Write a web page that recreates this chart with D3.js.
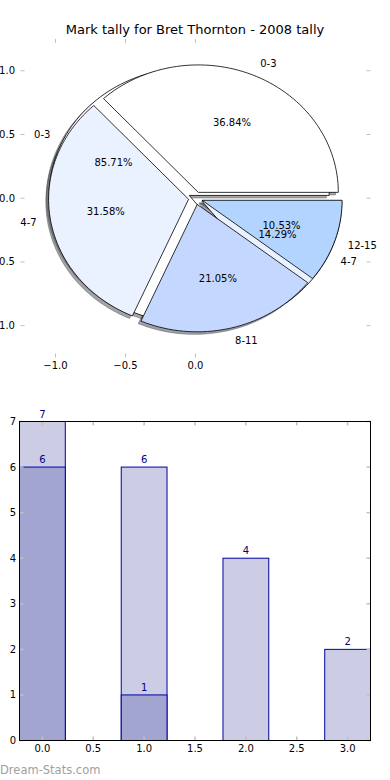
<!DOCTYPE html>
<html><head><meta charset="utf-8">
<script src="https://cdn.jsdelivr.net/npm/d3@7"></script>
<style>body{margin:0;background:#fff}svg{display:block}text{font-family:"DejaVu Sans",sans-serif}</style>
</head><body>
<script>
// ---- data ----
const title = "Mark tally for Bret Thornton - 2008 tally";
const pieLabels1 = ["0-3","4-7","8-11","12-15"];
const pieValues1 = [7,6,4,2];
const pieLabels2 = ["0-3","4-7"];
const pieValues2 = [6,1];
const pieColors = ["#ffffff","#ebf2ff","#c4d7ff","#b3d4ff"];
const pieXTicks = [-1.0,-0.5,0.0];
const pieYTicks = [1.0,0.5,0.0,-0.5,-1.0];
const barX = [0,1,2,3];
const barTotal = [7,6,4,2];
const barSub = [6,1];
const barXTicks = [0,0.5,1,1.5,2,2.5,3];
const barYTicks = [0,1,2,3,4,5,6,7];
const watermark = "Dream-Stats.com";

const W=390,H=780;
const svg=d3.select("body").append("svg").attr("width",W).attr("height",H);

svg.append("text").attr("x",195).attr("y",34).attr("text-anchor","middle")
  .attr("font-size",13).text(title);

// ---- pie axes ----
const px=d3.scaleLinear().domain([-1.25,1.25]).range([20.5,370.5]);
const py=d3.scaleLinear().domain([-1.25,1.25]).range([357.5,38.9]);
const tickGray="#c0c0c0";
const gp=svg.append("g");
pieXTicks.forEach(t=>{
  gp.append("line").attr("x1",px(t)).attr("x2",px(t)).attr("y1",38.9).attr("y2",42.9).attr("stroke",tickGray).attr("stroke-width",1);
  gp.append("line").attr("x1",px(t)).attr("x2",px(t)).attr("y1",357.5).attr("y2",353.5).attr("stroke",tickGray).attr("stroke-width",1);
  gp.append("text").attr("x",px(t)).attr("y",369).attr("text-anchor","middle").attr("font-size",10)
    .text(d3.format(".1f")(t).replace("-","\u2212"));
});
pieYTicks.forEach(t=>{
  gp.append("line").attr("x1",20.5).attr("x2",24.5).attr("y1",py(t)).attr("y2",py(t)).attr("stroke",tickGray);
  gp.append("line").attr("x1",370.5).attr("x2",366.5).attr("y1",py(t)).attr("y2",py(t)).attr("stroke",tickGray);
  gp.append("text").attr("x",15).attr("y",py(t)).attr("dy","0.35em").attr("text-anchor","end").attr("font-size",10)
    .text(d3.format(".1f")(t).replace("-","\u2212"));
});

const explode=0.05, rad=1, lineGen=d3.line().x(d=>px(d[0])).y(d=>py(d[1]));
function wedges(values,labels){
  const sum=d3.sum(values); let acc=0;
  return values.map((v,i)=>{
    const t1=acc/sum*360; acc+=v; const t2=acc/sum*360;
    const tm=(t1+t2)/2*Math.PI/180;
    const cx=explode*Math.cos(tm), cy=explode*Math.sin(tm);
    const pts=[[cx,cy]];
    const n=Math.max(4,Math.ceil((t2-t1)/2));
    for(let k=0;k<=n;k++){const a=(t1+(t2-t1)*k/n)*Math.PI/180;pts.push([cx+rad*Math.cos(a),cy+rad*Math.sin(a)]);}
    return {pts,cx,cy,tm,color:pieColors[i],label:labels[i],pct:v/sum*100};
  });
}
const w1=wedges(pieValues1,pieLabels1), w2=wedges(pieValues2,pieLabels2);
const all=[...w2,...w1];
all.forEach(w=>{
  const c=d3.rgb(w.color);
  gp.append("path").attr("d",lineGen(w.pts.map(p=>[p[0]-0.02,p[1]-0.02]))+"Z")
    .attr("fill",d3.rgb(c.r*0.3,c.g*0.3,c.b*0.3)).attr("fill-opacity",0.5)
    .attr("stroke",d3.rgb(c.r*0.3,c.g*0.3,c.b*0.3)).attr("stroke-opacity",0.5).attr("stroke-width",0.8);
});
all.forEach(w=>{
  gp.append("path").attr("d",lineGen(w.pts)+"Z").attr("fill",w.color)
    .attr("stroke","#000").attr("stroke-width",0.8).attr("stroke-linejoin","round");
});
all.forEach(w=>{
  const lx=w.cx+1.1*Math.cos(w.tm), ly=w.cy+1.1*Math.sin(w.tm);
  gp.append("text").attr("x",px(lx)).attr("y",py(ly)).attr("dy","0.35em")
    .attr("text-anchor",lx>0?"start":"end").attr("font-size",10).text(w.label);
  const qx=w.cx+0.6*Math.cos(w.tm), qy=w.cy+0.6*Math.sin(w.tm);
  gp.append("text").attr("x",px(qx)).attr("y",py(qy)).attr("dy","0.35em")
    .attr("text-anchor","middle").attr("font-size",10).text(w.pct.toFixed(2)+"%");
});

// ---- bar axes ----
const L=19.5,R=370.5,T=421.5,B=740.5;
const bx=d3.scaleLinear().domain([-0.225,3.225]).range([L,R]);
const by=d3.scaleLinear().domain([0,7]).range([B,T]);
const bw=0.45;
const gb=svg.append("g");
const lightC="#cccce5", darkC="#a3a5d1", edgeC="#0000a0", lblC="#000080";
barX.forEach((x,i)=>{
  gb.append("rect").attr("x",bx(x-bw/2)).attr("y",by(barTotal[i])).attr("width",bx(x+bw/2)-bx(x-bw/2))
    .attr("height",by(0)-by(barTotal[i])).attr("fill",lightC).attr("stroke",edgeC).attr("stroke-width",1);
});
barSub.forEach((v,i)=>{
  const x=barX[i];
  gb.append("rect").attr("x",bx(x-bw/2)).attr("y",by(v)).attr("width",bx(x+bw/2)-bx(x-bw/2))
    .attr("height",by(0)-by(v)).attr("fill",darkC).attr("stroke",edgeC).attr("stroke-width",1);
});
barX.forEach((x,i)=>{
  gb.append("text").attr("x",bx(x)).attr("y",by(barTotal[i])-4).attr("text-anchor","middle")
    .attr("font-size",10).attr("fill",lblC).text(barTotal[i]);
});
barSub.forEach((v,i)=>{
  gb.append("text").attr("x",bx(barX[i])).attr("y",by(v)-4).attr("text-anchor","middle")
    .attr("font-size",10).attr("fill",lblC).text(v);
});
barXTicks.forEach(t=>{
  gb.append("line").attr("x1",bx(t)).attr("x2",bx(t)).attr("y1",B).attr("y2",B-4).attr("stroke",tickGray).attr("stroke-width",1.5);
  gb.append("line").attr("x1",bx(t)).attr("x2",bx(t)).attr("y1",T).attr("y2",T+4).attr("stroke",tickGray).attr("stroke-width",1.5);
  gb.append("text").attr("x",bx(t)).attr("y",752).attr("text-anchor","middle").attr("font-size",10).text(d3.format(".1f")(t));
});
barYTicks.forEach(t=>{
  gb.append("line").attr("x1",L).attr("x2",L+4).attr("y1",by(t)).attr("y2",by(t)).attr("stroke",tickGray).attr("stroke-width",1.5);
  gb.append("line").attr("x1",R).attr("x2",R-4).attr("y1",by(t)).attr("y2",by(t)).attr("stroke",tickGray).attr("stroke-width",1.5);
  gb.append("text").attr("x",16).attr("y",by(t)).attr("dy","0.35em").attr("text-anchor","end").attr("font-size",10).text(t);
});
gb.append("rect").attr("x",L).attr("y",T).attr("width",R-L).attr("height",B-T).attr("fill","none").attr("stroke","#000").attr("stroke-width",1);

svg.append("text").attr("x",0).attr("y",774).attr("font-size",11.5).attr("fill","#a0a0a0").text(watermark);
</script>
</body></html>
